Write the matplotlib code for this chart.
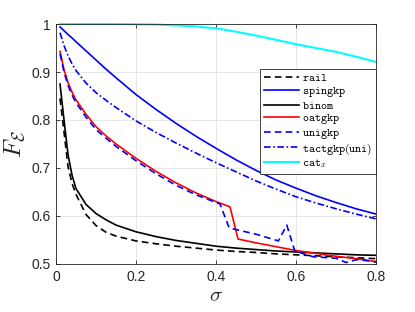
import matplotlib
matplotlib.use("Agg")
import matplotlib.pyplot as plt

plt.rcParams['mathtext.fontset'] = 'cm'
plt.rcParams['font.family'] = ['Liberation Sans', 'DejaVu Sans']

# sigma grid for the smooth curves
sig = [0.01, 0.02, 0.03, 0.04, 0.05, 0.075, 0.1, 0.125, 0.15, 0.2, 0.25,
       0.3, 0.35, 0.4, 0.45, 0.5, 0.55, 0.6, 0.65, 0.7, 0.75, 0.8]

rail = [0.845, 0.775, 0.703, 0.668, 0.645, 0.603, 0.580, 0.566, 0.558, 0.548, 0.542,
        0.537, 0.533, 0.529, 0.526, 0.524, 0.521, 0.519, 0.517, 0.515, 0.513, 0.511]
binom = [0.875, 0.800, 0.728, 0.685, 0.657, 0.624, 0.605, 0.592, 0.581, 0.567, 0.557,
         0.549, 0.543, 0.537, 0.533, 0.530, 0.527, 0.525, 0.523, 0.521, 0.519, 0.518]
spingkp = [0.994, 0.986, 0.978, 0.971, 0.963, 0.944, 0.925, 0.906, 0.888, 0.853, 0.822,
           0.793, 0.766, 0.741, 0.717, 0.695, 0.675, 0.658, 0.642, 0.628, 0.615, 0.604]
tactgkp = [0.982, 0.955, 0.934, 0.917, 0.903, 0.877, 0.857, 0.841, 0.826, 0.798, 0.774,
           0.752, 0.731, 0.711, 0.692, 0.673, 0.656, 0.640, 0.627, 0.615, 0.604, 0.594]
cat_x = [1.0, 1.0, 1.0, 1.0, 1.0, 1.0, 1.0, 1.0, 1.0, 0.9995, 0.999,
         0.997, 0.995, 0.991, 0.984, 0.976, 0.967, 0.958, 0.950, 0.942, 0.932, 0.921]

# oatgkp / unigkp have jumps, own sigma points
sig_oat = [0.01, 0.02, 0.03, 0.04, 0.05, 0.075, 0.1, 0.125, 0.15, 0.2, 0.25, 0.3,
           0.35, 0.4, 0.435, 0.455, 0.5, 0.55, 0.6, 0.65, 0.7, 0.75, 0.8]
oatgkp = [0.943, 0.905, 0.878, 0.858, 0.842, 0.812, 0.786, 0.767, 0.750, 0.720, 0.693, 0.669,
          0.648, 0.630, 0.619, 0.552, 0.544, 0.536, 0.528, 0.522, 0.516, 0.511, 0.505]

sig_uni = [0.01, 0.02, 0.03, 0.04, 0.05, 0.075, 0.1, 0.125, 0.15, 0.2, 0.25, 0.3, 0.35,
           0.41, 0.433, 0.5, 0.556, 0.577, 0.597, 0.643, 0.70, 0.725, 0.752, 0.775, 0.8]
unigkp = [0.938, 0.900, 0.872, 0.852, 0.836, 0.806, 0.780, 0.762, 0.745, 0.715, 0.688, 0.664, 0.644,
          0.625, 0.575, 0.562, 0.548, 0.581, 0.527, 0.515, 0.512, 0.503, 0.509, 0.507, 0.504]

fig = plt.figure(figsize=(4.15, 3.12), dpi=100)
ax = fig.add_axes([0.135, 0.154, 0.771, 0.769])

lw = 1.2
ax.plot(sig, rail, color='k', lw=lw, dashes=(4, 2.5), label=r'$\mathtt{rail}$')
ax.plot(sig, spingkp, color='#0000ff', lw=lw, label=r'$\mathtt{spingkp}$')
ax.plot(sig, binom, color='k', lw=lw, label=r'$\mathtt{binom}$')
ax.plot(sig_oat, oatgkp, color='#ff0000', lw=lw, label=r'$\mathtt{oatgkp}$')
ax.plot(sig_uni, unigkp, color='#0000ff', lw=lw, dashes=(4, 2.5), label=r'$\mathtt{unigkp}$')
ax.plot(sig, tactgkp, color='#0000ff', lw=lw, dashes=(4, 1.5, 1, 1.5), label=r'$\mathtt{tactgkp(uni)}$')
ax.plot(sig, cat_x, color='#00ffff', lw=lw + 0.3, label=r'$\mathtt{cat}_x$', clip_on=False)

ax.set_xlim(0, 0.8)
ax.set_ylim(0.5, 1.0)
ax.set_xticks([0, 0.2, 0.4, 0.6, 0.8])
ax.set_xticklabels(['0', '0.2', '0.4', '0.6', '0.8'])
ax.set_yticks([0.5, 0.6, 0.7, 0.8, 0.9, 1.0])
ax.set_yticklabels(['0.5', '0.6', '0.7', '0.8', '0.9', '1'])

ax.grid(True, color='#e3e3e3', lw=0.6)
ax.set_axisbelow(True)
for s in ax.spines.values():
    s.set_color('#262626')
    s.set_linewidth(0.6)
ax.tick_params(direction='in', top=True, right=True, length=3, width=0.6,
               labelsize=10, colors='#262626', pad=4)

ax.set_xlabel(r'$\sigma$', fontsize=15, color='#262626', labelpad=2)
ax.set_ylabel(r'$F_{\mathcal{E}}$', fontsize=18, color='#262626', labelpad=3)

leg = ax.legend(loc='upper right', bbox_to_anchor=(1.0, 0.8125), borderaxespad=0,
                fontsize=8.3, handlelength=3.1, handletextpad=0.25, labelspacing=0.05,
                borderpad=0.3, fancybox=False, framealpha=1)
leg.get_frame().set_edgecolor('#262626')
leg.get_frame().set_linewidth(0.6)

fig.savefig('out.png', dpi=100)
